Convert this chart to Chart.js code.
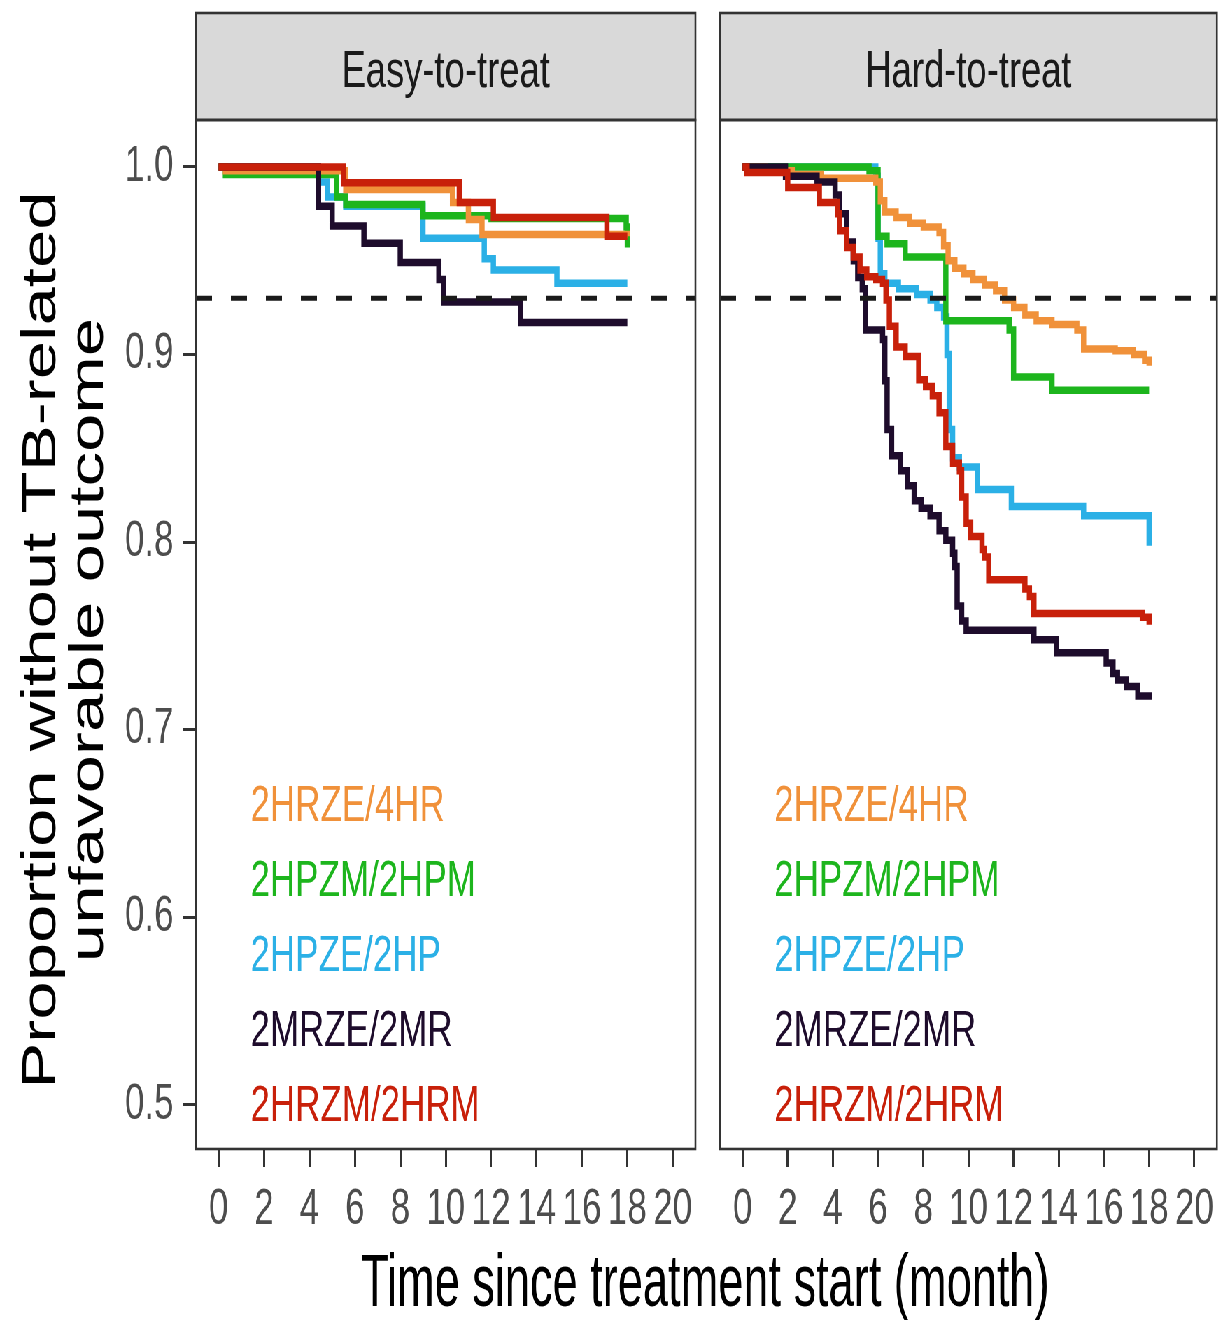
<!DOCTYPE html>
<html>
<head>
<meta charset="utf-8">
<script src="https://cdn.jsdelivr.net/npm/chart.js@4.4.1/dist/chart.umd.min.js"></script>
<style>
  html, body { margin: 0; padding: 0; background: #fff; overflow: hidden; }
  #wrap { position: relative; width: 1748px; height: 1320px; transform: scaleX(0.69966); transform-origin: 0 0; }
  #wrap canvas { position: absolute; left: 0; top: 0; }
</style>
</head>
<body>
<div id="wrap">
  <canvas id="cLeft" width="1748" height="1320"></canvas>
  <canvas id="cRight" width="1748" height="1320"></canvas>
</div>
<script>
// ---------------- data ----------------
const panels = ['Easy-to-treat', 'Hard-to-treat'];
const regimens = ['2HRZE/4HR', '2HPZM/2HPM', '2HPZE/2HP', '2MRZE/2MR', '2HRZM/2HRM'];
const xTicks = [0, 2, 4, 6, 8, 10, 12, 14, 16, 18, 20];
const xTickLabels = ['0', '2', '4', '6', '8', '10', '12', '14', '16', '18', '20'];
const yTicks = [0.5, 0.6, 0.7, 0.8, 0.9, 1.0];
const yTickLabels = ['0.5', '0.6', '0.7', '0.8', '0.9', '1.0'];
const refLine = [0.93];

// Easy-to-treat (time in months, survival)
const easy_HRZE_t = [0, 0.3, 5.6, 10.3, 11.0, 11.6, 18.0];
const easy_HRZE_s = [1.0, 0.998, 0.988, 0.981, 0.972, 0.964, 0.963];
const easy_HPZM_t = [0, 0.3, 5.2, 5.6, 9.0, 12.0, 17.95, 18.0];
const easy_HPZM_s = [1.0, 0.996, 0.984, 0.980, 0.974, 0.9725, 0.968, 0.957];
const easy_HPZE_t = [0, 4.4, 4.8, 5.6, 9.0, 11.7, 12.1, 14.9, 18.0];
const easy_HPZE_s = [1.0, 0.992, 0.984, 0.979, 0.962, 0.951, 0.945, 0.938, 0.938];
const easy_MRZE_t = [0, 4.4, 5.0, 6.4, 8.0, 9.7, 9.9, 13.3, 18.0];
const easy_MRZE_s = [1.0, 0.979, 0.9685, 0.9593, 0.949, 0.940, 0.928, 0.917, 0.917];
const easy_HRZM_t = [0, 5.5, 10.6, 12.1, 17.1, 18.0];
const easy_HRZM_s = [1.0, 0.9915, 0.981, 0.973, 0.963, 0.963];

// Hard-to-treat
const hard_HRZE_t = [0, 1.0, 2.2, 3.5, 5.9, 6.1, 6.3, 6.8, 7.4, 8.0, 8.7, 8.9, 9.1, 9.4, 9.8, 10.2, 10.7, 11.2, 11.6, 12.0, 12.5, 13.0, 13.7, 14.8, 15.1, 16.5, 17.3, 17.8, 18.0];
const hard_HRZE_s = [1.0, 0.998, 0.996, 0.994, 0.992, 0.982, 0.976, 0.973, 0.970, 0.968, 0.965, 0.958, 0.950, 0.946, 0.943, 0.940, 0.937, 0.934, 0.929, 0.925, 0.921, 0.918, 0.916, 0.913, 0.903, 0.902, 0.900, 0.897, 0.894];
const hard_HPZM_t = [0, 5.6, 6.0, 6.4, 7.2, 9.0, 11.8, 12.0, 13.7, 18.0];
const hard_HPZM_s = [1.0, 0.998, 0.963, 0.959, 0.952, 0.918, 0.913, 0.888, 0.881, 0.881];
const hard_HPZE_t = [0, 5.9, 6.0, 6.1, 6.3, 6.9, 7.7, 8.3, 8.6, 8.9, 9.05, 9.15, 9.3, 9.6, 10.4, 11.9, 15.1, 18.0];
const hard_HPZE_s = [1.0, 0.995, 0.962, 0.943, 0.938, 0.935, 0.932, 0.929, 0.925, 0.920, 0.900, 0.860, 0.845, 0.840, 0.828, 0.819, 0.814, 0.798];
const hard_MRZE_t = [0, 1.9, 3.3, 4.1, 4.3, 4.6, 4.9, 5.1, 5.3, 5.45, 6.2, 6.3, 6.4, 6.6, 7.0, 7.3, 7.6, 7.9, 8.3, 8.7, 9.0, 9.3, 9.4, 9.5, 9.7, 9.9, 12.9, 13.9, 16.1, 16.4, 16.6, 17.0, 17.5, 18.0];
const hard_MRZE_s = [1.0, 0.995, 0.992, 0.985, 0.975, 0.960, 0.950, 0.941, 0.935, 0.913, 0.908, 0.886, 0.860, 0.846, 0.838, 0.830, 0.822, 0.818, 0.814, 0.806, 0.801, 0.794, 0.787, 0.766, 0.758, 0.753, 0.748, 0.741, 0.7355, 0.730, 0.7265, 0.723, 0.718, 0.716];
const hard_HRZM_t = [0, 0.2, 2.0, 3.4, 4.2, 4.3, 4.6, 4.9, 5.2, 5.5, 5.9, 6.2, 6.35, 6.5, 6.8, 7.2, 7.8, 8.1, 8.4, 8.7, 9.0, 9.3, 9.6, 9.7, 9.9, 10.1, 10.6, 10.7, 10.9, 12.5, 12.7, 12.9, 17.7, 18.0];
const hard_HRZM_s = [1.0, 0.997, 0.989, 0.981, 0.975, 0.966, 0.957, 0.952, 0.945, 0.9415, 0.940, 0.938, 0.929, 0.915, 0.904, 0.899, 0.8865, 0.883, 0.878, 0.869, 0.851, 0.842, 0.838, 0.824, 0.810, 0.803, 0.796, 0.792, 0.780, 0.775, 0.771, 0.762, 0.760, 0.756];

const easySeries = [[easy_HRZE_t, easy_HRZE_s], [easy_HPZM_t, easy_HPZM_s], [easy_HPZE_t, easy_HPZE_s], [easy_MRZE_t, easy_MRZE_s], [easy_HRZM_t, easy_HRZM_s]];
const hardSeries = [[hard_HRZE_t, hard_HRZE_s], [hard_HPZM_t, hard_HPZM_s], [hard_HPZE_t, hard_HPZE_s], [hard_MRZE_t, hard_MRZE_s], [hard_HRZM_t, hard_HRZM_s]];

// ---------------- styles / layout ----------------
const COLORS = ['#F0913A', '#1DB51D', '#2BB0E6', '#1E0C2C', '#C8200A'];
const DRAW_TOP_FIRST = [4, 3, 0, 1, 2]; // red on top ... blue at bottom
const FONT = '"Liberation Sans", Arial, Helvetica, sans-serif';
const CANVAS_W = 1748, CANVAS_H = 1320;
const PANEL_TOP = 120, PANEL_BOTTOM = 1149, STRIP_TOP = 13;
const LEFT_PANEL = [280, 994], RIGHT_PANEL = [1029, 1743];
const X_MIN = -1, X_MAX = 21, Y_MIN = 0.4765, Y_MAX = 1.025;
const LABEL_X = 1.4, LABEL_Y = [0.66, 0.62, 0.58, 0.54, 0.50];

const facetPlugin = {
  id: 'facet',
  afterDraw(chart, args, opts) {
    const { ctx, chartArea: a, scales } = chart;
    ctx.save();
    // strip
    ctx.fillStyle = '#d9d9d9';
    ctx.fillRect(a.left, STRIP_TOP, a.right - a.left, a.top - STRIP_TOP);
    ctx.lineWidth = 2.6;
    ctx.strokeStyle = '#333333';
    ctx.strokeRect(a.left, STRIP_TOP, a.right - a.left, a.top - STRIP_TOP);
    ctx.strokeRect(a.left, a.top, a.right - a.left, a.bottom - a.top);
    ctx.fillStyle = '#1a1a1a';
    ctx.font = '52px ' + FONT;
    ctx.textAlign = 'center';
    ctx.textBaseline = 'alphabetic';
    ctx.fillText(opts.panel, (a.left + a.right) / 2, 87);
    // in-panel labels
    ctx.font = '50px ' + FONT;
    ctx.textAlign = 'left';
    regimens.forEach((r, i) => {
      ctx.fillStyle = COLORS[i];
      ctx.fillText(r, scales.x.getPixelForValue(LABEL_X), scales.y.getPixelForValue(LABEL_Y[i]) + 16);
    });
    if (opts.titles) {
      ctx.fillStyle = '#000';
      ctx.font = '69px ' + FONT;
      ctx.textAlign = 'center';
      const lines = ['Proportion without TB-related', 'unfavorable outcome'];
      const baselines = [78.6, 147];
      lines.forEach((ln, i) => {
        ctx.save();
        ctx.translate(baselines[i], 640);
        ctx.rotate(-Math.PI / 2);
        ctx.fillText(ln, 0, 0);
        ctx.restore();
      });
      ctx.font = '74px ' + FONT;
      ctx.fillText('Time since treatment start (month)', 1008, 1306, 984);
    }
    ctx.restore();
  }
};

function makeDatasets(series) {
  const ds = [];
  ds.push({
    data: [{ x: X_MIN, y: refLine[0] }, { x: X_MAX, y: refLine[0] }],
    borderColor: '#1a1a1a', borderWidth: 5, borderDash: [23, 27],
    pointRadius: 0, fill: false, tension: 0
  });
  DRAW_TOP_FIRST.forEach((i) => {
    const [t, s] = series[i];
    ds.push({
      label: regimens[i],
      data: t.map((v, k) => ({ x: v, y: s[k] })),
      borderColor: COLORS[i], borderWidth: 7.5, stepped: 'before',
      pointRadius: 0, fill: false, tension: 0,
      borderCapStyle: 'butt', borderJoinStyle: 'miter'
    });
  });
  return ds;
}

function makeChart(id, series, panelName, isLeft) {
  const padding = isLeft
    ? { left: 0, right: CANVAS_W - LEFT_PANEL[1], top: PANEL_TOP, bottom: 0 }
    : { left: RIGHT_PANEL[0], right: CANVAS_W - RIGHT_PANEL[1], top: PANEL_TOP, bottom: 0 };
  return new Chart(document.getElementById(id), {
    type: 'line',
    data: { datasets: makeDatasets(series) },
    options: {
      responsive: false,
      animation: false,
      devicePixelRatio: 1,
      layout: { padding, autoPadding: false },
      plugins: { legend: { display: false }, tooltip: { enabled: false }, facet: { panel: panelName, titles: isLeft } },
      scales: {
        x: {
          type: 'linear', min: X_MIN, max: X_MAX,
          afterBuildTicks: (s) => { s.ticks = xTicks.map(v => ({ value: v })); },
          afterFit: (s) => { s.height = CANVAS_H - PANEL_BOTTOM; },
          ticks: {
            autoSkip: false, maxRotation: 0, minRotation: 0, padding: 13,
            color: '#4d4d4d', font: { family: FONT, size: 50 },
            callback: (v, i) => xTickLabels[i]
          },
          grid: { drawOnChartArea: false, drawTicks: true, tickLength: 18, tickWidth: 3, tickColor: '#333333' },
          border: { display: false }
        },
        y: {
          type: 'linear', min: Y_MIN, max: Y_MAX, display: isLeft,
          afterBuildTicks: (s) => { s.ticks = yTicks.map(v => ({ value: v })); },
          afterFit: (s) => { s.width = isLeft ? LEFT_PANEL[0] : 0; },
          ticks: {
            autoSkip: false, padding: 14,
            color: '#4d4d4d', font: { family: FONT, size: 50 },
            callback: (v, i) => yTickLabels[i]
          },
          grid: { drawOnChartArea: false, drawTicks: true, tickLength: 18, tickWidth: 3, tickColor: '#333333' },
          border: { display: false }
        }
      }
    },
    plugins: [facetPlugin]
  });
}

makeChart('cLeft', easySeries, panels[0], true);
makeChart('cRight', hardSeries, panels[1], false);
</script>
</body>
</html>
